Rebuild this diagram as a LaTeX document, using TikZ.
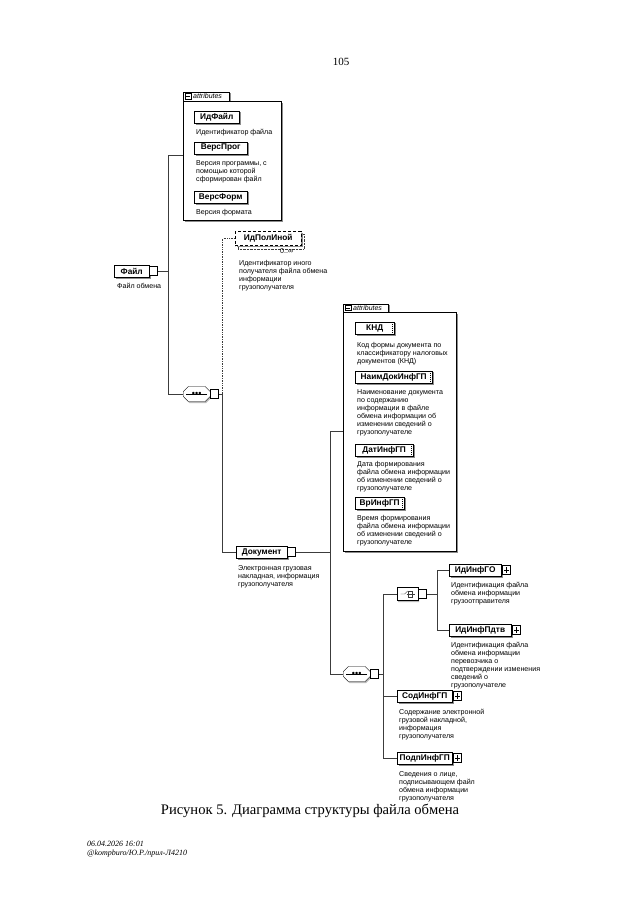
\documentclass[tikz,border=0pt]{standalone}
\usepackage{fontspec}
\setmainfont{Liberation Serif}
\setsansfont{Liberation Sans}
\usepackage{xcolor}
\usetikzlibrary{positioning,shapes.misc,shadows,calc}
\definecolor{shadegray}{RGB}{140,140,140}
\definecolor{linegray}{RGB}{60,60,60}

\tikzset{
  elem/.style={draw, fill=white, anchor=west, inner sep=0pt, minimum height=12.5pt, font=\sffamily\bfseries\fontsize{8.3}{9}\selectfont, drop shadow={shadow xshift=1.6pt, shadow yshift=-1.6pt, fill=shadegray, opacity=1}},
  attrelem/.style={elem, path picture={\draw[line width=1pt, densely dotted] ([xshift=-1.3pt]path picture bounding box.north east) -- ([xshift=-1.3pt]path picture bounding box.south east);}},
  optelem/.style={elem, densely dashed, minimum height=14pt},
  expbox/.style={draw, fill=white, inner sep=0pt, minimum width=8pt, minimum height=9pt},
  plusbox/.style={expbox, path picture={\draw ([xshift=1.6pt]path picture bounding box.west) -- ([xshift=-1.6pt]path picture bounding box.east) ([yshift=-1.8pt]path picture bounding box.north) -- ([yshift=1.8pt]path picture bounding box.south);}},
  minusbox/.style={draw, fill=white, inner sep=0pt, minimum size=5.5pt, path picture={\draw ([xshift=1pt]path picture bounding box.west) -- ([xshift=-1pt]path picture bounding box.east);}},
  seqnode/.style={chamfered rectangle, chamfered rectangle xsep=3pt, draw, fill=white, anchor=west, inner sep=0pt, minimum width=27pt, minimum height=15pt, font=\sffamily\fontsize{9}{9}\selectfont, drop shadow={shadow xshift=1pt, shadow yshift=-1.6pt, fill=shadegray!60, opacity=1}, path picture={\draw ([xshift=3pt]path picture bounding box.west) -- ([xshift=-3pt]path picture bounding box.east);}},
  choicenode/.style={chamfered rectangle, chamfered rectangle xsep=3pt, draw, fill=white, anchor=west, inner sep=0pt, minimum width=21pt, minimum height=13pt, drop shadow={shadow xshift=1pt, shadow yshift=-1.6pt, fill=shadegray!60, opacity=1}},
  attrbox/.style={draw, fill=white, anchor=north west, inner sep=0pt, drop shadow={shadow xshift=2pt, shadow yshift=-2pt, fill=shadegray, opacity=1}},
  attrtab/.style={draw, fill=white, anchor=south west, inner sep=0pt, text width=46pt, align=left, minimum height=9pt, font=\sffamily\itshape\fontsize{7}{7}\selectfont, drop shadow={shadow xshift=1.6pt, shadow yshift=-1.6pt, fill=shadegray, opacity=1}},
  desc/.style={inner sep=0pt, align=left, font=\sffamily\fontsize{7.1}{8}\selectfont},
  conn/.style={draw=linegray, line width=0.7pt},
  optconn/.style={conn, densely dotted}
}

\begin{document}
\begin{tikzpicture}[x=1pt, y=-1pt]
\fill[white] (0,0) rectangle (640,905);
\useasboundingbox (0,0) rectangle (640,905);

\node[font=\fontsize{11}{12}\selectfont] (pagenum) at (341,62) {105};

% attributes of the root
\node[attrtab] (tabA) at (183,101) {\hspace*{10pt}attributes};
\node[minusbox, right=2pt of tabA.west] (tabAicon) {};
\node[attrbox, minimum width=98pt, minimum height=119pt] (attrsA) at (183,101) {};
\node[elem, minimum width=45pt] (idfajl) at (194,117) {ИдФайл};
\node[desc, below right=6pt and 2pt of idfajl.south west] (idfajldesc) {Идентификатор файла};
\node[elem, minimum width=53pt] (versprog) at (194,148) {ВерсПрог};
\node[desc, below right=6pt and 2pt of versprog.south west] (versprogdesc) {Версия программы, с\\помощью которой\\сформирован файл};
\node[elem, minimum width=53pt] (versform) at (194,197) {ВерсФорм};
\node[desc, below right=6pt and 2pt of versform.south west] (versformdesc) {Версия формата};

% root
\node[elem, minimum width=35pt] (fajl) at (114,271) {Файл};
\node[expbox, right=0pt of fajl] (fajlexp) {};
\node[desc, below right=6pt and 3pt of fajl.south west] (fajldesc) {Файл обмена};

\node[seqnode] (seqA) at (183,394) {\textbullet\textbullet\textbullet};
\node[expbox, right=0pt of seqA] (seqAexp) {};

\draw[densely dotted, linegray] (238,234) rectangle (304,249);
\node[optelem, minimum width=66pt] (idpolinoj) at (235,238.5) {ИдПолИной};
\node[desc, below left=3pt and 8pt of idpolinoj.south east] (idpolinojcard) {0..∞};
\node[desc, below right=14pt and 4pt of idpolinoj.south west] (idpolinojdesc) {Идентификатор иного\\получателя файла обмена\\информации\\грузополучателя};

\node[elem, minimum width=51pt] (dokument) at (236,552) {Документ};
\node[expbox, right=0pt of dokument] (dokexp) {};
\node[desc, below right=7pt and 2pt of dokument.south west] (dokdesc) {Электронная грузовая\\накладная, информация\\грузополучателя};

% attributes of the document
\node[attrtab, text width=45pt, minimum height=8pt] (tabB) at (343,312) {\hspace*{10pt}attributes};
\node[minusbox, right=2pt of tabB.west] (tabBicon) {};
\node[attrbox, minimum width=113pt, minimum height=239pt] (attrsB) at (343,312) {};
\node[attrelem, minimum width=39pt] (knd) at (355,328) {КНД};
\node[desc, below right=8pt and 2pt of knd.south west] (knddesc) {Код формы документа по\\классификатору налоговых\\документов (КНД)};
\node[attrelem, minimum width=77pt] (naimdok) at (355,377) {НаимДокИнфГП};
\node[desc, below right=6pt and 2pt of naimdok.south west] (naimdokdesc) {Наименование документа\\по содержанию\\информации в файле\\обмена информации об\\изменении сведений о\\грузополучателе};
\node[attrelem, minimum width=58pt] (datinf) at (355,450) {ДатИнфГП};
\node[desc, below right=5pt and 2pt of datinf.south west] (datinfdesc) {Дата формирования\\файла обмена информации\\об изменении сведений о\\грузополучателе};
\node[attrelem, minimum width=49pt] (vrinf) at (355,503) {ВрИнфГП};
\node[desc, below right=6pt and 2pt of vrinf.south west] (vrinfdesc) {Время формирования\\файла обмена информации\\об изменении сведений о\\грузополучателе};

% content of the document
\node[seqnode] (seqB) at (343,674) {\textbullet\textbullet\textbullet};
\node[expbox, right=0pt of seqB] (seqBexp) {};

\node[choicenode] (choice) at (397,594) {};
\node[expbox, right=0pt of choice] (choiceexp) {};
\draw[linegray] ($(choice.center)+(-7pt,0)$) -- ($(choice.center)+(-3pt,0)$) -- ($(choice.center)+(0,3pt)$);
\draw[linegray] ($(choice.center)+(0.5pt,-3pt)$) rectangle ($(choice.center)+(4.5pt,3pt)$);
\draw[linegray] ($(choice.center)+(-1pt,0)$) -- ($(choice.center)+(7pt,0)$);

\node[elem, minimum width=52pt] (idinfgo) at (449,570) {ИдИнфГО};
\node[plusbox, right=1pt of idinfgo] (idinfgoexp) {};
\node[desc, below right=6pt and 2pt of idinfgo.south west] (idinfgodesc) {Идентификация файла\\обмена информации\\грузоотправителя};
\node[elem, minimum width=62pt] (idinfpdtv) at (449,630) {ИдИнфПдтв};
\node[plusbox, right=1pt of idinfpdtv] (idinfpdtvexp) {};
\node[desc, below right=6pt and 2pt of idinfpdtv.south west] (idinfpdtvdesc) {Идентификация файла\\обмена информации\\перевозчика о\\подтверждении изменения\\сведений о\\грузополучателе};

\node[elem, minimum width=55pt] (sodinfgp) at (397,696) {СодИнфГП};
\node[plusbox, right=1pt of sodinfgp] (sodinfgpexp) {};
\node[desc, below right=7pt and 2pt of sodinfgp.south west] (sodinfgpdesc) {Содержание электронной\\грузовой накладной,\\информация\\грузополучателя};
\node[elem, minimum width=55pt] (podpinfgp) at (397,758) {ПодпИнфГП};
\node[plusbox, right=1pt of podpinfgp] (podpinfgpexp) {};
\node[desc, below right=7pt and 2pt of podpinfgp.south west] (podpinfgpdesc) {Сведения о лице,\\подписывающем файл\\обмена информации\\грузополучателя};

% connectors
\coordinate (busA) at ($(fajlexp.east)+(11pt,0)$);
\coordinate (busB) at ($(seqAexp.east)+(4pt,0)$);
\coordinate (busC) at ($(dokexp.east)+(35pt,0)$);
\coordinate (busD) at ($(seqBexp.east)+(5pt,0)$);
\coordinate (busE) at ($(choiceexp.east)+(11pt,0)$);
\draw[conn] (fajlexp.east) -- (busA);
\draw[conn] ([yshift=5pt]attrsA.west) -| (busA) |- (seqA.west);
\draw[conn] (seqAexp.east) -- (busB) |- (dokument.west);
\draw[optconn] (busB) |- (idpolinoj.west);
\draw[conn] (dokexp.east) -- (busC);
\draw[conn] (attrsB.west) -| (busC) |- (seqB.west);
\draw[conn] (seqBexp.east) -- (busD);
\draw[conn] (choice.west) -| (busD) |- (podpinfgp.west);
\draw[conn] (busD |- sodinfgp.west) -- (sodinfgp.west);
\draw[conn] (choiceexp.east) -- (busE);
\draw[conn] (idinfgo.west) -| (busE) |- (idinfpdtv.west);

\node[font=\fontsize{14.6}{16}\selectfont] (caption) at (310,811) {Рисунок 5. Диаграмма структуры файла обмена};
\node[anchor=north west, inner sep=0pt, align=left, font=\itshape\fontsize{8}{8.5}\selectfont] (stamp) at (87,841) {06.04.2026 16:01\\@kompburo/Ю.Р./прил-Л4210};
\end{tikzpicture}
\end{document}
